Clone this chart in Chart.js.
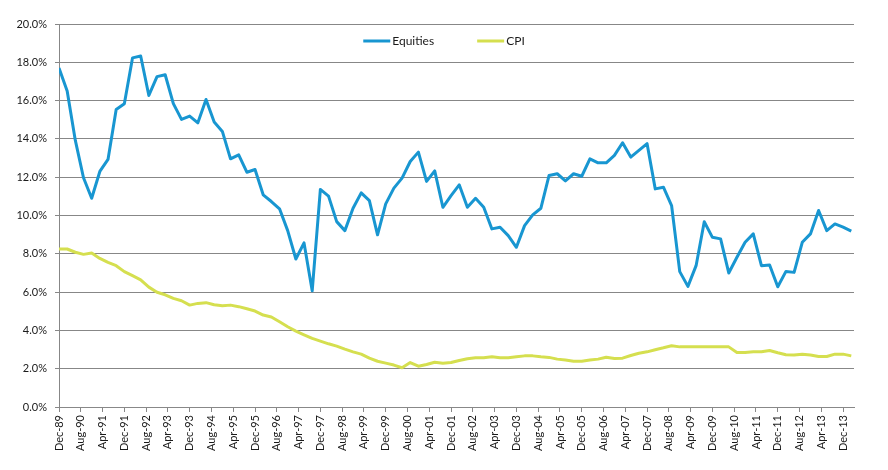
<!DOCTYPE html>
<html>
<head>
<meta charset="utf-8">
<script src="https://cdn.jsdelivr.net/npm/chart.js@4.4.1/dist/chart.umd.min.js"></script>
<style>
html,body{margin:0;padding:0;background:#fff;}
#wrap{width:888px;height:470px;}
</style>
</head>
<body>
<div id="wrap"><canvas id="c" width="888" height="470"></canvas></div>
<script>
// Quarterly observations, Dec-89 .. Mar-14 (x = months since Dec-89)
const seriesNames = ['Equities', 'CPI'];
const equities = [
  17.70, 16.50, 13.92, 11.97, 10.90, 12.30, 12.93, 15.54, 15.84, 18.23,
  18.33, 16.27, 17.25, 17.35, 15.84, 15.02, 15.19, 14.84, 16.06, 14.88,
  14.39, 12.96, 13.17, 12.26, 12.40, 11.08, 10.73, 10.35, 9.21, 7.73,
  8.57, 6.07, 11.36, 11.01, 9.68, 9.21, 10.38, 11.18, 10.78, 8.99,
  10.61, 11.43, 11.95, 12.82, 13.31, 11.78, 12.33, 10.43, 11.04, 11.60,
  10.43, 10.90, 10.43, 9.30, 9.39, 8.95, 8.34, 9.47, 10.03, 10.38,
  12.09, 12.18, 11.81, 12.18, 12.05, 12.96, 12.75, 12.75, 13.14, 13.80,
  13.05, 13.40, 13.75, 11.39, 11.48, 10.52, 7.07, 6.30, 7.38, 9.67,
  8.86, 8.78, 7.00, 7.82, 8.60, 9.04, 7.38, 7.42, 6.28, 7.08,
  7.03, 8.60, 9.04, 10.26, 9.21, 9.56, 9.39, 9.18
];
const cpi = [
  8.25, 8.25, 8.08, 7.97, 8.04, 7.76, 7.55, 7.38, 7.07, 6.86,
  6.64, 6.26, 5.99, 5.86, 5.67, 5.55, 5.32, 5.41, 5.45, 5.34,
  5.29, 5.32, 5.24, 5.13, 5.01, 4.80, 4.70, 4.45, 4.19, 3.96,
  3.77, 3.58, 3.44, 3.30, 3.18, 3.02, 2.88, 2.76, 2.55, 2.39,
  2.29, 2.19, 2.05, 2.32, 2.13, 2.22, 2.34, 2.29, 2.32, 2.43,
  2.52, 2.57, 2.57, 2.62, 2.57, 2.57, 2.62, 2.67, 2.67, 2.62,
  2.59, 2.50, 2.45, 2.39, 2.39, 2.45, 2.50, 2.60, 2.53, 2.55,
  2.69, 2.81, 2.88, 2.99, 3.09, 3.20, 3.14, 3.14, 3.14, 3.14,
  3.14, 3.14, 3.14, 2.85, 2.85, 2.88, 2.88, 2.95, 2.83, 2.73,
  2.71, 2.76, 2.71, 2.64, 2.64, 2.76, 2.76, 2.67
];
const monthsPerObservation = 3;
const tickLabels = [
  'Dec-89','Aug-90','Apr-91','Dec-91','Aug-92','Apr-93','Dec-93','Aug-94','Apr-95',
  'Dec-95','Aug-96','Apr-97','Dec-97','Aug-98','Apr-99','Dec-99','Aug-00','Apr-01',
  'Dec-01','Aug-02','Apr-03','Dec-03','Aug-04','Apr-05','Dec-05','Aug-06','Apr-07',
  'Dec-07','Aug-08','Apr-09','Dec-09','Aug-10','Apr-11','Dec-11','Aug-12','Apr-13','Dec-13'
];
const monthsPerTick = 8;
const axisMaxMonths = 292; // Apr-14
const yTicks = [0, 2, 4, 6, 8, 10, 12, 14, 16, 18, 20];

const colors = ['#1896d1', '#d5df4f'];
const FONT = 'Lato, "Open Sans", "Liberation Sans", sans-serif';

const toPoints = arr => arr.map((v, i) => ({x: i * monthsPerObservation, y: v}));

const legendPlugin = {
  id: 'customLegend',
  afterDraw(chart) {
    const ctx = chart.ctx;
    ctx.save();
    ctx.font = '12px ' + FONT;
    const sample = 27, gapText = 2, gapItem = 43;
    const items = chart.data.datasets.map(ds => ({
      label: ds.label, color: ds.borderColor, w: sample + gapText + ctx.measureText(ds.label).width
    }));
    const total = items.reduce((s, it) => s + it.w, 0) + gapItem * (items.length - 1);
    let x = (chart.width - total) / 2;
    const y = 41;
    items.forEach(it => {
      ctx.strokeStyle = it.color;
      ctx.lineWidth = 3;
      ctx.lineCap = 'butt';
      ctx.beginPath();
      ctx.moveTo(x, y);
      ctx.lineTo(x + sample, y);
      ctx.stroke();
      ctx.fillStyle = '#1a1a1a';
      ctx.textBaseline = 'middle';
      ctx.textAlign = 'left';
      ctx.fillText(it.label, x + sample + gapText, y + 0.5);
      x += it.w + gapItem;
    });
    ctx.restore();
  }
};

const bgPlugin = {
  id: 'bg',
  beforeDraw(chart) {
    const ctx = chart.ctx;
    ctx.save();
    ctx.fillStyle = '#fff';
    ctx.fillRect(0, 0, chart.width, chart.height);
    ctx.restore();
  }
};

new Chart(document.getElementById('c'), {
  type: 'line',
  data: {
    datasets: [
      {label: seriesNames[0], data: toPoints(equities), borderColor: colors[0]},
      {label: seriesNames[1], data: toPoints(cpi), borderColor: colors[1]}
    ].map(d => Object.assign(d, {
      borderWidth: 3, pointRadius: 0, tension: 0, fill: false,
      borderJoinStyle: 'round', borderCapStyle: 'butt'
    }))
  },
  options: {
    responsive: false,
    animation: false,
    devicePixelRatio: 1,
    layout: {padding: {top: 24, right: 34, left: 0, bottom: 0}},
    plugins: {legend: {display: false}, tooltip: {enabled: false}},
    scales: {
      x: {
        type: 'linear',
        min: 0,
        max: axisMaxMonths,
        afterBuildTicks(scale) {
          scale.ticks = tickLabels.map((_, i) => ({value: i * monthsPerTick}));
        },
        afterFit(scale) { scale.height = 63; },
        ticks: {
          autoSkip: false,
          maxRotation: 90,
          minRotation: 90,
          padding: 3,
          color: '#1a1a1a',
          font: {family: FONT, size: 11},
          callback: v => tickLabels[Math.round(v / monthsPerTick)]
        },
        grid: {drawOnChartArea: false, drawTicks: true, tickLength: 5, color: '#888'},
        border: {color: '#888', width: 1}
      },
      y: {
        min: 0,
        max: 20,
        afterBuildTicks(scale) {
          scale.ticks = yTicks.map(v => ({value: v}));
        },
        afterFit(scale) { scale.width = 59; },
        ticks: {
          padding: 8,
          color: '#1a1a1a',
          font: {family: FONT, size: 11},
          callback: v => v.toFixed(1) + '%'
        },
        grid: {color: '#878787', lineWidth: 1, tickLength: 4, drawTicks: true},
        border: {color: '#878787', width: 1}
      }
    }
  },
  plugins: [bgPlugin, legendPlugin]
});
</script>
</body>
</html>
